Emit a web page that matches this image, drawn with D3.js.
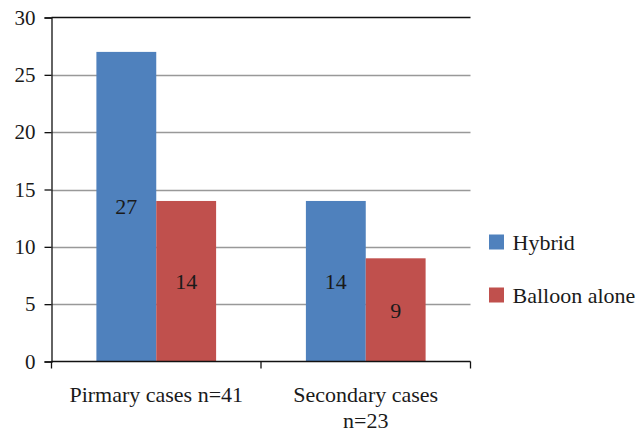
<!DOCTYPE html>
<html><head><meta charset="utf-8">
<script src="https://cdn.jsdelivr.net/npm/d3@7"></script>
<style>body{margin:0;background:#fff}svg{display:block}</style>
</head><body><svg id="c" width="643" height="432" font-family="Liberation Serif"></svg>
<script>
const categories = ["Pirmary cases n=41", "Secondary cases n=23"];
const categoryLines = [["Pirmary cases n=41"], ["Secondary cases", "n=23"]];
const seriesNames = ["Hybrid", "Balloon alone"];
const hybrid = [27, 14];
const balloon = [14, 9];
const yTicks = [0, 5, 10, 15, 20, 25, 30];
const colors = ["#4F81BD", "#C0504D"];
const FONT = "Liberation Serif";
const TXT = "#1a1a1a";

const svg = d3.select("#c");
const L = 51.5, R = 470.5, T = 17.5, B = 361.5;
const x = d3.scaleBand().domain(categories).range([L, R]).paddingInner(0).paddingOuter(0);
const xs = d3.scaleBand().domain(seriesNames).range([0, x.bandwidth()]).paddingInner(0).paddingOuter(0.75);
const y = d3.scaleLinear().domain([0, 30]).range([B, T]);

// gridlines
svg.append("g").selectAll("line").data(yTicks.filter(d => d > 0 && d < 30)).join("line")
  .attr("x1", L).attr("x2", R).attr("y1", d => Math.round(y(d)) + 0.5).attr("y2", d => Math.round(y(d)) + 0.5)
  .attr("stroke", "#999").attr("stroke-width", 1.3);
svg.append("line").attr("x1", L).attr("x2", R).attr("y1", y(30)).attr("y2", y(30)).attr("stroke", "#111").attr("stroke-width", 1.3);

// bars
const data = categories.map((c, i) => [hybrid[i], balloon[i]]);
const groups = svg.append("g").selectAll("g").data(categories).join("g")
  .attr("transform", c => `translate(${x(c)},0)`);
groups.selectAll("rect").data((c, i) => data[i].map((v, j) => ({v, s: seriesNames[j], j}))).join("rect")
  .attr("x", d => xs(d.s)).attr("width", xs.bandwidth())
  .attr("y", d => y(d.v)).attr("height", d => y(0) - y(d.v))
  .attr("fill", d => colors[d.j]);
groups.selectAll("text").data((c, i) => data[i].map((v, j) => ({v, s: seriesNames[j], j}))).join("text")
  .attr("x", d => xs(d.s) + xs.bandwidth() / 2)
  .attr("y", d => (y(d.v) + y(0)) / 2)
  .attr("dy", "0.35em").attr("text-anchor", "middle")
  .attr("font-family", FONT).attr("font-size", 22).attr("fill", TXT)
  .text(d => d.v);

// y axis
const yAxis = d3.axisLeft(y).tickValues(yTicks).tickSize(7).tickFormat(d3.format("d"));
const ya = svg.append("g").attr("transform", `translate(${L},0)`).call(yAxis);
ya.attr("font-family", FONT).attr("font-size", 21);
ya.select(".domain").attr("stroke", "#111").attr("stroke-width", 1.3);
ya.selectAll(".tick line").attr("stroke", "#111").attr("stroke-width", 1.3);
ya.selectAll(".tick text").attr("font-family", FONT).attr("font-size", 21).attr("x", -16).attr("fill", TXT);

// x axis
svg.append("line").attr("x1", L).attr("x2", R).attr("y1", B).attr("y2", B).attr("stroke", "#111").attr("stroke-width", 1.3);
const xt = [L, ...categories.map(c => x(c) + x.bandwidth())];
svg.append("g").selectAll("line").data(xt).join("line")
  .attr("x1", d => d).attr("x2", d => d).attr("y1", B).attr("y2", B + 7).attr("stroke", "#111").attr("stroke-width", 1.3);
svg.append("g").selectAll("text").data(categories).join("text")
  .attr("x", c => x(c) + x.bandwidth() / 2).attr("y", 402)
  .attr("text-anchor", "middle").attr("font-family", FONT).attr("font-size", 22).attr("fill", TXT)
  .selectAll("tspan").data((c, i) => categoryLines[i]).join("tspan")
  .attr("x", function() { return this.parentNode.getAttribute("x"); })
  .attr("dy", (d, k) => k === 0 ? 0 : 26).text(d => d);

// legend
const lg = svg.append("g").selectAll("g").data(seriesNames).join("g")
  .attr("transform", (d, i) => `translate(489,${234.5 + i * 53})`);
lg.append("rect").attr("width", 15).attr("height", 15).attr("fill", (d, i) => colors[i]);
lg.append("text").attr("x", 23.5).attr("y", 7.5).attr("dy", "0.35em")
  .attr("font-family", FONT).attr("font-size", 22).attr("fill", TXT).text(d => d);
</script></body></html>
